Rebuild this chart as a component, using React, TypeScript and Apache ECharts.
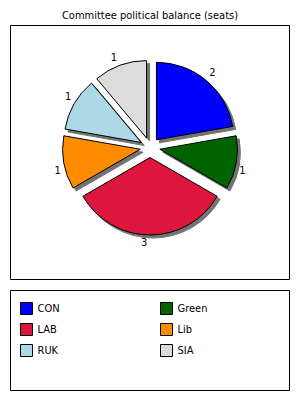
import React, { useEffect, useRef } from "react";
import * as echarts from "echarts";

const titleText = "Committee political balance (seats)";
const parties = ["CON", "Green", "LAB", "Lib", "RUK", "SIA"];
const seats = [2, 1, 3, 1, 1, 1];
const colors = ["#0000FF", "#006400", "#DC143C", "#FF8C00", "#ADD8E6", "#DCDCDC"];
const legendLeft = ["CON", "LAB", "RUK"];
const legendRight = ["Green", "Lib", "SIA"];

const FONT = "DejaVu Sans Condensed";

export default function App() {
  const ref = useRef<HTMLDivElement>(null);
  useEffect(() => {
    if (!ref.current) return;
    const chart = echarts.init(ref.current, null, { renderer: "svg" });
    const legendCommon = {
      orient: "vertical" as const,
      top: 302,
      padding: 0,
      itemWidth: 12,
      itemHeight: 12,
      itemGap: 8,
      icon: "rect",
      selectedMode: false,
      textStyle: { fontFamily: FONT, fontSize: 11, color: "#000" },
      itemStyle: { borderColor: "#000", borderWidth: 1, shadowBlur: 0, shadowOffsetX: 0, shadowOffsetY: 0 },
    };
    const total = seats.reduce((a, b) => a + b, 0);
    let acc = 0;
    const labelShift: number[][] = [];
    const data = parties.map((p, i) => {
      const mid = ((acc + seats[i] / 2) / total) * Math.PI * 2;
      acc += seats[i];
      const dx = Math.sin(mid);
      const dy = -Math.cos(mid);
      const sgnE = dx < 0 ? -1 : 1;
      const sgnD = dx > 1e-9 ? 1 : -1;
      const sgnY = dy > 0 ? 1 : -1;
      labelShift.push([(sgnD - sgnE) * 6, sgnY * 7.5]);
      return {
        name: p,
        value: seats[i],
        selected: true,
        itemStyle: { color: colors[i] },
      };
    });
    chart.setOption({
      animation: false,
      title: {
        text: titleText,
        left: "center",
        top: 10,
        padding: 0,
        textStyle: { fontFamily: FONT, fontSize: 11, fontWeight: "normal", color: "#000" },
      },
      legend: [
        { ...legendCommon, left: 20, data: legendLeft },
        { ...legendCommon, left: 160, data: legendRight },
      ],
      graphic: [
        { type: "rect", shape: { x: 10.5, y: 25.5, width: 279, height: 254 }, style: { fill: "none", stroke: "#000", lineWidth: 1 }, silent: true },
        { type: "rect", shape: { x: 10.5, y: 290.5, width: 279, height: 100 }, style: { fill: "none", stroke: "#000", lineWidth: 1 }, silent: true },
      ],
      series: [
        {
          type: "pie",
          center: [150, 147.5],
          radius: 77.5,
          startAngle: 90,
          clockwise: true,
          selectedMode: "multiple",
          selectedOffset: 10,
          emphasis: { disabled: true },
          itemStyle: {
            borderColor: "#000",
            borderWidth: 1,
            shadowColor: "rgba(0,0,0,0.55)",
            shadowBlur: 1,
            shadowOffsetX: 3,
            shadowOffsetY: 3,
          },
          label: {
            show: true,
            position: "outside",
            formatter: "{c}",
            fontFamily: FONT,
            fontSize: 11,
            color: "#000",
            distanceToLabelLine: 3,
          },
          labelLine: { show: false, length: 0, length2: 0 },
          labelLayout: (params: any) => {
            const s = labelShift[params.dataIndex] || [0, 0];
            return { dx: s[0], dy: s[1] };
          },
          data,
        },
      ],
    });
    return () => chart.dispose();
  }, []);
  return (
    <div
      ref={ref}
      style={{ position: "fixed", left: 0, top: 0, width: 300, height: 400, background: "#fff" }}
    />
  );
}
